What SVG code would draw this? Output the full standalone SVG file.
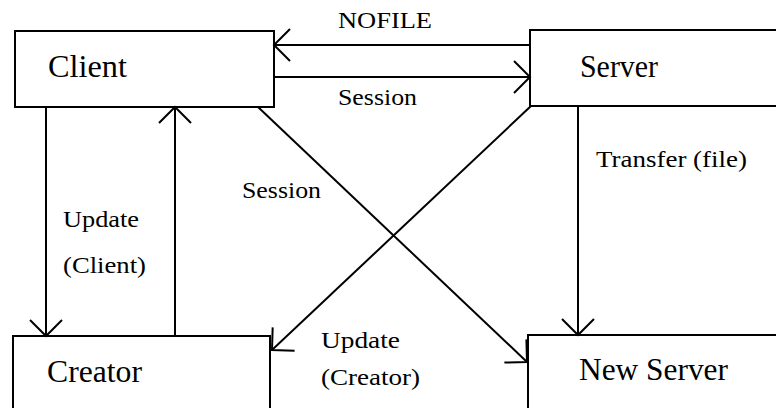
<svg xmlns="http://www.w3.org/2000/svg" width="776" height="408" viewBox="0 0 776 408">
  <style>
    .box { fill: #fff; stroke: #000; stroke-width: 2; }
    .node-label { font-family: 'Liberation Serif', serif; font-size: 31px; fill: #000; }
    .edge-label { font-family: 'Liberation Serif', serif; font-size: 24px; fill: #000; }
    .edge { fill: none; stroke: #000; stroke-width: 2; marker-end: url(#open-arrow); }
  </style>
  <defs>
    <marker id="open-arrow" markerUnits="userSpaceOnUse" markerWidth="40" markerHeight="40" refX="0" refY="0" viewBox="-20 -20 40 40" orient="auto" overflow="visible">
      <path d="M-16,-16 L0,0 L-16,16" fill="none" stroke="#000" stroke-width="2"/>
    </marker>
  </defs>
  <rect width="776" height="408" fill="#fff"/>

  <g id="client">
    <rect class="box" x="15" y="31" width="259" height="76"/>
    <text class="node-label" x="48" y="77" textLength="79" lengthAdjust="spacingAndGlyphs">Client</text>
  </g>
  <g id="server">
    <rect class="box" x="530" y="30" width="270" height="76"/>
    <text class="node-label" x="580" y="77" textLength="78" lengthAdjust="spacingAndGlyphs">Server</text>
  </g>
  <g id="creator">
    <rect class="box" x="13" y="336" width="257" height="90"/>
    <text class="node-label" x="47" y="382" textLength="95" lengthAdjust="spacingAndGlyphs">Creator</text>
  </g>
  <g id="new-server">
    <rect class="box" x="528" y="335" width="270" height="90"/>
    <text class="node-label" x="579" y="380" textLength="149" lengthAdjust="spacingAndGlyphs">New Server</text>
  </g>

  <g id="connectors">
    <line class="edge" x1="530" y1="45" x2="274" y2="45"/>
    <line class="edge" x1="274" y1="77" x2="530" y2="77"/>
    <line class="edge" x1="46" y1="107" x2="46" y2="336"/>
    <line class="edge" x1="175" y1="336" x2="175" y2="107"/>
    <line class="edge" x1="578" y1="106" x2="578" y2="335"/>
    <line class="edge" x1="258" y1="107" x2="527" y2="362"/>
    <line class="edge" x1="531" y1="106" x2="272" y2="350"/>

    <text class="edge-label" x="338" y="28" textLength="94" lengthAdjust="spacingAndGlyphs">NOFILE</text>
    <text class="edge-label" x="338" y="105" textLength="79" lengthAdjust="spacingAndGlyphs">Session</text>
    <text class="edge-label" x="242" y="198" textLength="79" lengthAdjust="spacingAndGlyphs">Session</text>
    <text class="edge-label" x="596" y="167" textLength="151" lengthAdjust="spacingAndGlyphs">Transfer (file)</text>
    <text class="edge-label" x="63" y="227" textLength="76" lengthAdjust="spacingAndGlyphs">Update</text>
    <text class="edge-label" x="63" y="273" textLength="83" lengthAdjust="spacingAndGlyphs">(Client)</text>
    <text class="edge-label" x="321" y="348" textLength="79" lengthAdjust="spacingAndGlyphs">Update</text>
    <text class="edge-label" x="321" y="385" textLength="99" lengthAdjust="spacingAndGlyphs">(Creator)</text>
  </g>
</svg>
